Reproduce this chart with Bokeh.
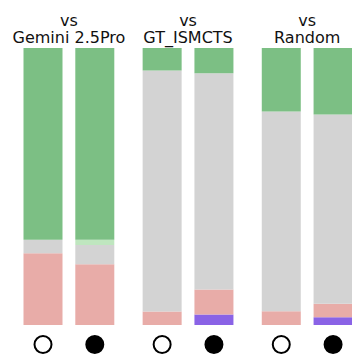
from bokeh.plotting import figure
from bokeh.models import ColumnDataSource, Range1d
from bokeh.core.properties import value
from bokeh.embed import file_html
from bokeh.resources import INLINE

# data
groups = ["Gemini 2.5Pro", "GT_ISMCTS", "Random"]
players = ["open", "filled"]
purple = [0.0, 0.0, 0.0, 0.038, 0.0, 0.028]
pink = [0.259, 0.219, 0.049, 0.090, 0.050, 0.049]
gray = [0.049, 0.070, 0.870, 0.781, 0.721, 0.683]
lightgreen = [0.0, 0.019, 0.0, 0.0, 0.0, 0.0]
green = [0.692, 0.692, 0.081, 0.091, 0.229, 0.240]

GROUP_STEP = 2.3
xs = [g * GROUP_STEP + p for g in range(len(groups)) for p in range(len(players))]
src = ColumnDataSource(dict(x=xs, purple=purple, pink=pink, gray=gray,
                            lightgreen=lightgreen, green=green))

p = figure(width=352, height=355, output_backend="svg", toolbar_location=None,
           x_range=Range1d(-0.8205, 5.975), y_range=Range1d(-0.1101, 1.1715),
           min_border=0, outline_line_color=None)
p.axis.visible = False
p.grid.visible = False

stack = ["purple", "pink", "gray", "lightgreen", "green"]
colors = ["#8a63e6", "#e8aca8", "#d3d3d3", "#bfe6bf", "#7cbf84"]
p.vbar_stack(stack, x="x", width=0.753, color=colors, line_color=None, source=src)

# markers
mx_open = [xs[i] for i in range(0, 6, 2)]
mx_fill = [xs[i] for i in range(1, 6, 2)]
p.scatter(mx_open, [-0.0704] * 3, size=17, fill_color="white", line_color="black", line_width=2)
p.scatter(mx_fill, [-0.0704] * 3, size=17, fill_color="black", line_color="black", line_width=2)

gx = [g * GROUP_STEP + 0.5 for g in range(len(groups))]
p.text(gx, [1.099] * 3, text=["vs"] * 3, text_align="center", text_baseline="alphabetic",
       text_font=value("DejaVu Sans"), text_font_size="16px", text_color="#111111")
p.text(gx, [1.037] * 3, text=groups, text_align="center", text_baseline="alphabetic",
       text_font=value("DejaVu Sans"), text_font_size="16px", text_color="#111111")

open("out.html", "w").write(file_html(p, INLINE))
